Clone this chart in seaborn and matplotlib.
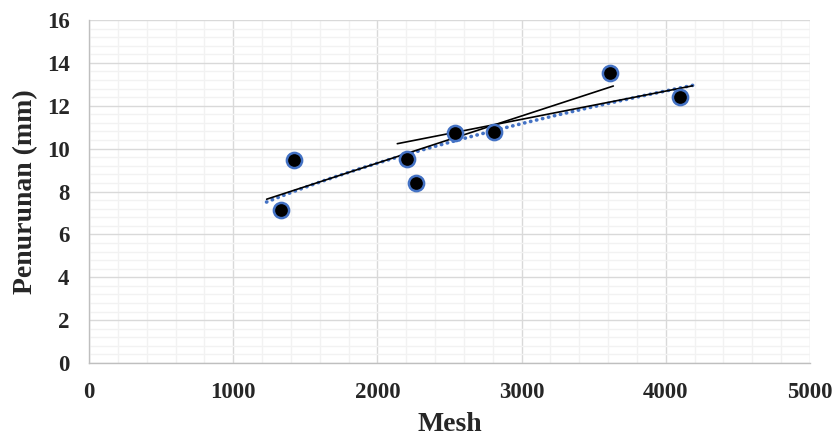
import numpy as np
import pandas as pd
import matplotlib
matplotlib.use("Agg")
import matplotlib.pyplot as plt
from matplotlib.ticker import MultipleLocator
import seaborn as sns

# Data
mesh = [1331, 1424, 2203, 2270, 2538, 2809, 3613, 4098]
penurunan = [7.14, 9.47, 9.50, 8.41, 10.74, 10.76, 13.51, 12.39]

# Black straight trend segments (endpoints)
lineA_x = [1232, 3636]
lineA_y = [7.64, 12.92]
lineB_x = [2138, 4186]
lineB_y = [10.23, 12.93]

x_ticks = [0, 1000, 2000, 3000, 4000, 5000]
y_ticks = [0, 2, 4, 6, 8, 10, 12, 14, 16]

sns.set_theme(style="white")
plt.rcParams['font.family'] = ['Liberation Serif', 'DejaVu Serif']

fig = plt.figure(figsize=(8.39, 4.41), dpi=100)
ax = fig.add_axes([89/839, 1-363/441, (810-89)/839, (363-20)/441])

# Power trendline (Excel-style, forecast 100 each side)
df = pd.DataFrame({"Mesh": mesh, "Penurunan": penurunan})
b, c = np.polyfit(np.log(df.Mesh), np.log(df.Penurunan), 1)
xt = np.linspace(min(mesh) - 100, max(mesh) + 100, 200)
trend = pd.DataFrame({"x": xt, "y": np.exp(c) * xt ** b})

sns.lineplot(data=trend, x="x", y="y", ax=ax, color="#4472C4", lw=2.6,
             linestyle=(0, (0.1, 1.6)), zorder=3)
ax.lines[-1].set_dash_capstyle("round")

ax.plot(lineA_x, lineA_y, color="black", lw=1.2, zorder=4)
ax.plot(lineB_x, lineB_y, color="black", lw=1.2, zorder=4)

sns.scatterplot(data=df, x="Mesh", y="Penurunan", ax=ax, s=120, color="black",
                edgecolor="#4472C4", linewidth=1.8, zorder=5)

ax.set_xlim(0, 5000)
ax.set_ylim(0, 16)
ax.set_xticks(x_ticks)
ax.set_yticks(y_ticks)
ax.xaxis.set_minor_locator(MultipleLocator(200))
ax.yaxis.set_minor_locator(MultipleLocator(0.4))
ax.grid(which="major", color="#d9d9d9", lw=1.0, zorder=0)
ax.grid(which="minor", color="#f2f2f2", lw=1.0, zorder=0)
ax.set_axisbelow(True)

for s in ["top", "right"]:
    ax.spines[s].set_visible(False)
for s in ["left", "bottom"]:
    ax.spines[s].set_color("#bfbfbf")
    ax.spines[s].set_linewidth(1.0)

ax.tick_params(axis="both", which="major", length=5, width=1, color="#bfbfbf",
               labelsize=16.5, pad=9)
ax.tick_params(axis="both", which="minor", length=0)
for lbl in ax.get_xticklabels() + ax.get_yticklabels():
    lbl.set_fontweight("bold")

ax.set_xlabel("Mesh", fontsize=20, fontweight="bold", labelpad=6)
ax.set_ylabel("Penurunan (mm)", fontsize=20, fontweight="bold", labelpad=6)

fig.savefig("out.png", dpi=100)
